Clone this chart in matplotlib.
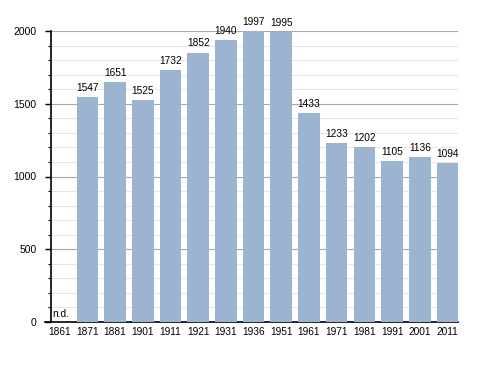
import matplotlib
matplotlib.use("Agg")
import matplotlib.pyplot as plt
import numpy as np

years = ["1861", "1871", "1881", "1901", "1911", "1921", "1931", "1936",
         "1951", "1961", "1971", "1981", "1991", "2001", "2011"]
population = [None, 1547, 1651, 1525, 1732, 1852, 1940, 1997, 1995,
              1433, 1233, 1202, 1105, 1136, 1094]
y_major = [0, 500, 1000, 1500, 2000]

plt.rcParams['font.family'] = ['Liberation Sans', 'DejaVu Sans']

W, H = 488, 373
fig = plt.figure(figsize=(W / 100, H / 100), dpi=100)
left_px, right_px, top_px, bot_px = 50.5, 458, 31, 322
ax = fig.add_axes([left_px / W, (H - bot_px) / H, (right_px - left_px) / W, (bot_px - top_px) / H])

x = np.arange(len(years))
vals = [v if v is not None else 0 for v in population]
ax.bar(x, vals, width=0.78, color="#9cb4cf", zorder=3)
fs = 7.3
for xi, v in zip(x, population):
    if v is None:
        ax.text(xi - 0.27, 18, "n.d.", fontsize=fs, ha="left", va="bottom", zorder=4)
    else:
        ax.text(xi, v + 28, str(v), fontsize=fs, ha="center", va="bottom", zorder=4)

ax.set_xlim(-0.33, 14.38)
ax.set_ylim(0, 2000)
ax.set_yticks(y_major)
ax.set_yticks(np.arange(0, 2001, 100), minor=True)
ax.set_xticks(x)
ax.set_xticklabels(years, fontsize=fs)
ax.tick_params(axis='y', labelsize=7.5, length=4, width=1, pad=6)
ax.tick_params(axis='y', which='minor', length=2, width=0.8)
ax.tick_params(axis='x', length=0, pad=3.5)
ax.grid(axis='y', which='major', color="#a8a8a8", linewidth=0.8, zorder=0)
ax.grid(axis='y', which='minor', color="#e6e6e6", linewidth=0.8, zorder=0)
ax.set_axisbelow(True)
for s in ["top", "right"]:
    ax.spines[s].set_visible(False)
ax.spines["left"].set_linewidth(1.2)
ax.spines["bottom"].set_linewidth(1.2)
ax.spines["bottom"].set_bounds(-0.53, 14.38)
ax.spines["bottom"].set_clip_on(False)

fig.savefig("out.png", dpi=100)
